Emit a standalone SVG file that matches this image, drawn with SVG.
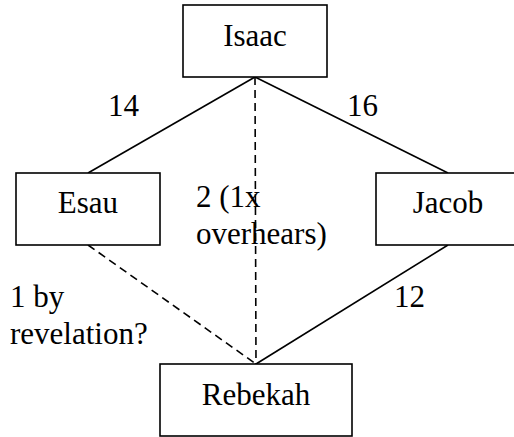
<svg xmlns="http://www.w3.org/2000/svg" width="514" height="437" viewBox="0 0 514 437">
<style>
.box{fill:#fff;stroke:#000;stroke-width:1.6}
.t{font-family:"Liberation Serif","Times New Roman",serif;font-size:31px;fill:#000}
.c{text-anchor:middle}
.ln{stroke:#000;stroke-width:1.6;fill:none}
.d{stroke-dasharray:8,5}
</style>
<g id="connectors">
<line class="ln" x1="255" y1="77" x2="88" y2="173"/>
<line class="ln" x1="255" y1="77" x2="448" y2="173"/>
<line class="ln d" x1="255" y1="77" x2="256" y2="364"/>
<line class="ln d" x1="88" y1="245" x2="256" y2="364"/>
<line class="ln" x1="448" y1="245" x2="256" y2="364"/>
</g>
<g id="isaac"><rect class="box" x="183" y="5" width="144" height="72"/><text class="t c" x="255" y="46">Isaac</text></g>
<g id="esau"><rect class="box" x="16" y="173" width="144" height="72"/><text class="t c" x="88" y="213">Esau</text></g>
<g id="jacob"><rect class="box" x="376" y="173" width="144" height="72"/><text class="t c" x="448" y="213">Jacob</text></g>
<g id="rebekah"><rect class="box" x="160" y="364" width="192" height="72"/><text class="t c" x="256" y="405">Rebekah</text></g>
<g id="labels">
<text class="t" x="108" y="116">14</text>
<text class="t" x="347" y="116">16</text>
<text class="t" x="196" y="207">2 (1x</text>
<text class="t" x="196" y="244">overhears)</text>
<text class="t" x="10" y="307">1 by</text>
<text class="t" x="10" y="344">revelation?</text>
<text class="t" x="394" y="307">12</text>
</g>
</svg>
